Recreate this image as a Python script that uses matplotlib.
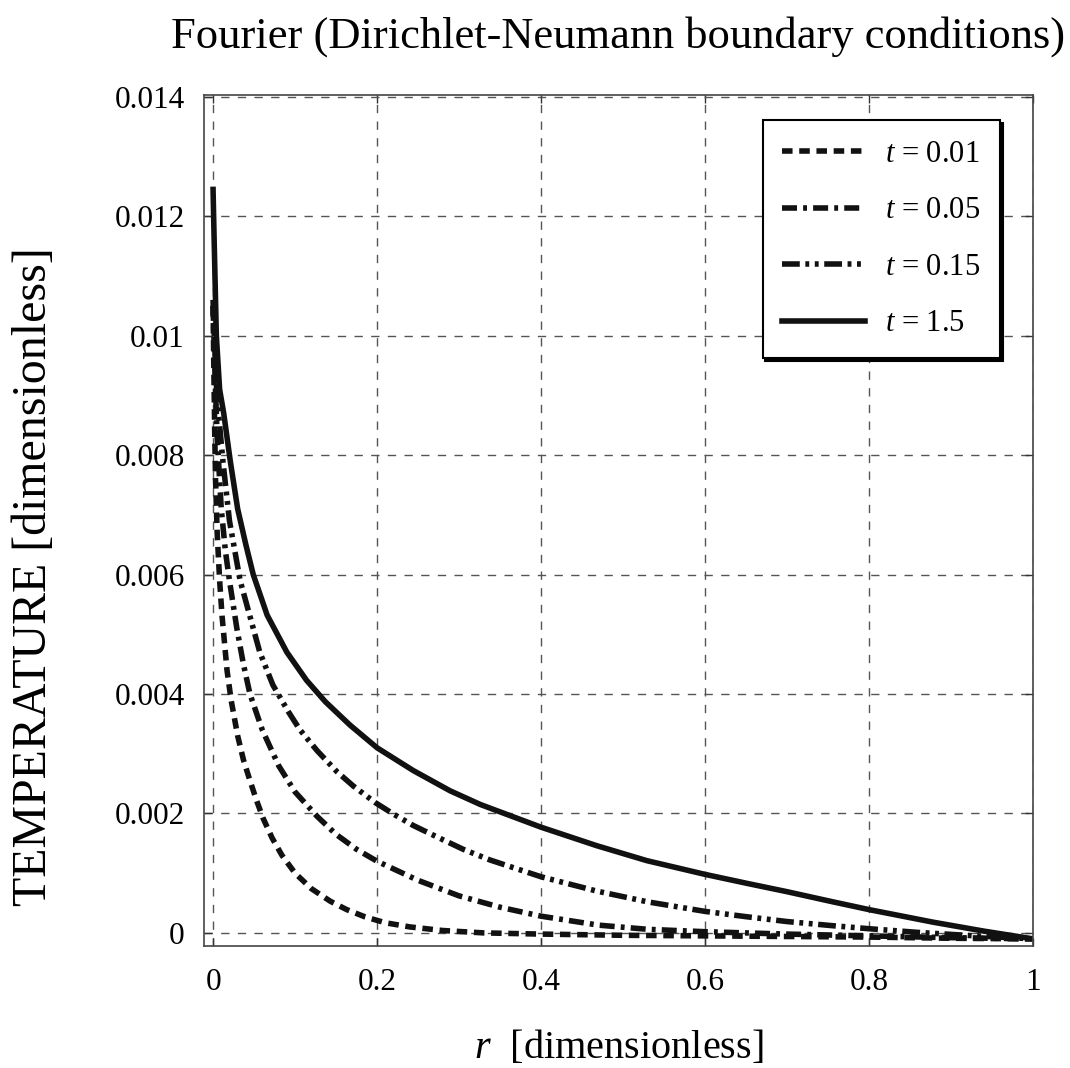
import numpy as np
import matplotlib
matplotlib.use("Agg")
from matplotlib import pyplot as plt

# radial profiles
r_001 = [0.0, 0.001, 0.002, 0.003, 0.005, 0.008, 0.011, 0.017, 0.022, 0.03, 0.037, 0.045,
         0.053, 0.061, 0.072, 0.084, 0.1, 0.12, 0.143, 0.163, 0.185, 0.21, 0.24, 0.28,
         0.33, 0.4, 0.5, 0.6, 0.7, 0.8, 0.9, 1.0]
T_001 = [0.0105, 0.0094, 0.0084, 0.0076, 0.0067, 0.0059, 0.0053, 0.0044, 0.0039, 0.0033,
         0.0029, 0.00255, 0.00222, 0.00192, 0.00159, 0.0013, 0.001, 0.00074, 0.00053,
         0.00039, 0.00027, 0.00017, 0.0001, 0.00004, 0.0, -0.00002, -0.00004, -0.00005,
         -0.00006, -0.00007, -0.00009, -0.0001]

r_005 = [0.0, 0.002, 0.005, 0.01, 0.015, 0.02, 0.029, 0.037, 0.045, 0.06, 0.08, 0.1,
         0.127, 0.15, 0.175, 0.2, 0.25, 0.3, 0.35, 0.4, 0.47, 0.53, 0.6, 0.7, 0.8, 0.9, 1.0]
T_005 = [0.0105, 0.0095, 0.0083, 0.0071, 0.0064, 0.0059, 0.0051, 0.0045, 0.004, 0.0034,
         0.0028, 0.00236, 0.00195, 0.00165, 0.0014, 0.0012, 0.00088, 0.00062, 0.00043,
         0.00028, 0.00013, 0.00006, 0.00002, -0.00002, -0.00005, -0.00008, -0.0001]

r_015 = [0.0, 0.002, 0.005, 0.008, 0.012, 0.02, 0.033, 0.045, 0.057, 0.073, 0.092, 0.106,
         0.127, 0.151, 0.171, 0.198, 0.22, 0.244, 0.265, 0.305, 0.338, 0.4, 0.468, 0.53,
         0.6, 0.651, 0.7, 0.756, 0.8, 0.858, 0.93, 1.0]
T_015 = [0.0106, 0.0098, 0.0089, 0.0085, 0.0079, 0.0069, 0.0059, 0.0053, 0.0047, 0.00415,
         0.0037, 0.0034, 0.00305, 0.0027, 0.00246, 0.00218, 0.00199, 0.0018, 0.00166,
         0.0014, 0.00122, 0.00094, 0.0007, 0.00052, 0.00036, 0.00027, 0.00019, 0.00012,
         0.00007, 0.00001, -0.00005, -0.0001]

r_150 = [0.0, 0.001, 0.004, 0.008, 0.013, 0.021, 0.03, 0.04, 0.049, 0.066, 0.09, 0.114,
         0.137, 0.167, 0.2, 0.244, 0.289, 0.326, 0.4, 0.468, 0.529, 0.6, 0.651, 0.7,
         0.756, 0.8, 0.878, 0.94, 1.0]
T_150 = [0.01245, 0.0118, 0.01, 0.0091, 0.0087, 0.0079, 0.0071, 0.0065, 0.006, 0.00532,
         0.0047, 0.00423, 0.00387, 0.00348, 0.0031, 0.00272, 0.00238, 0.00215, 0.00177,
         0.00146, 0.00121, 0.00098, 0.00083, 0.00069, 0.00052, 0.00039, 0.00018, 0.00003,
         -0.0001]

labels = ['$t$ = 0.01', '$t$ = 0.05', '$t$ = 0.15', '$t$ = 1.5']
xticks = [0, 0.2, 0.4, 0.6, 0.8, 1]
xticklabels = ['0', '0.2', '0.4', '0.6', '0.8', '1']
yticks = [0, 0.002, 0.004, 0.006, 0.008, 0.01, 0.012, 0.014]
yticklabels = ['0', '0.002', '0.004', '0.006', '0.008', '0.01', '0.012', '0.014']

plt.rcParams['font.family'] = ['Liberation Serif', 'DejaVu Serif']
plt.rcParams['mathtext.fontset'] = 'custom'
plt.rcParams['mathtext.rm'] = 'Liberation Serif'
plt.rcParams['mathtext.it'] = 'Liberation Serif:italic'

fig = plt.figure(figsize=(10.7, 10.68), dpi=100)
ax = fig.add_axes([0.1907, 0.1142, 0.9654 - 0.1907, 0.9110 - 0.1142])

lw = 4.0
ax.plot(r_001, T_001, color='#111111', lw=lw, ls=(0, (1.9, 1.2)), label=labels[0])
ax.plot(r_005, T_005, color='#111111', lw=lw, ls=(0, (2.7, 1.1, 0.7, 1.1)), label=labels[1])
ax.plot(r_015, T_015, color='#111111', lw=lw,
        ls=(0, (3.2, 1.0, 0.7, 1.0, 0.7, 1.0)), label=labels[2])
ax.plot(r_150, T_150, color='#111111', lw=lw, ls='-', label=labels[3])

ax.set_xlim(-0.011, 1.0)
ax.set_ylim(-0.00022, 0.01403)
ax.set_xticks(xticks)
ax.set_xticklabels(xticklabels)
ax.set_yticks(yticks)
ax.set_yticklabels(yticklabels)
ax.tick_params(direction='in', length=6, width=1, top=True, right=True,
               labelsize=22.5, color='#333333')
ax.tick_params(axis='x', pad=16)
ax.tick_params(axis='y', pad=14)

ax.grid(True, color='#555555', lw=1.0, ls=(0, (6, 6)))
for s in ax.spines.values():
    s.set_linewidth(1.2)
    s.set_color('#444444')

ax.set_title('Fourier (Dirichlet-Neumann boundary conditions)', fontsize=32, pad=34)
ax.set_xlabel('$r$  [dimensionless]', fontsize=29, labelpad=23)
ax.set_ylabel('TEMPERATURE [dimensionless]', fontsize=34.5)
ax.yaxis.set_label_coords(-0.178, 0.434)

leg = ax.legend(loc='upper right', bbox_to_anchor=(0.960, 0.9706), borderaxespad=0,
                fontsize=22, handlelength=2.7, labelspacing=0.9, borderpad=0.65,
                handletextpad=0.65, fancybox=False, framealpha=1,
                shadow={'color': 'black', 'alpha': 1})
leg.get_frame().set_edgecolor('black')
leg.get_frame().set_linewidth(1.5)

plt.savefig('out.png', dpi=100)
